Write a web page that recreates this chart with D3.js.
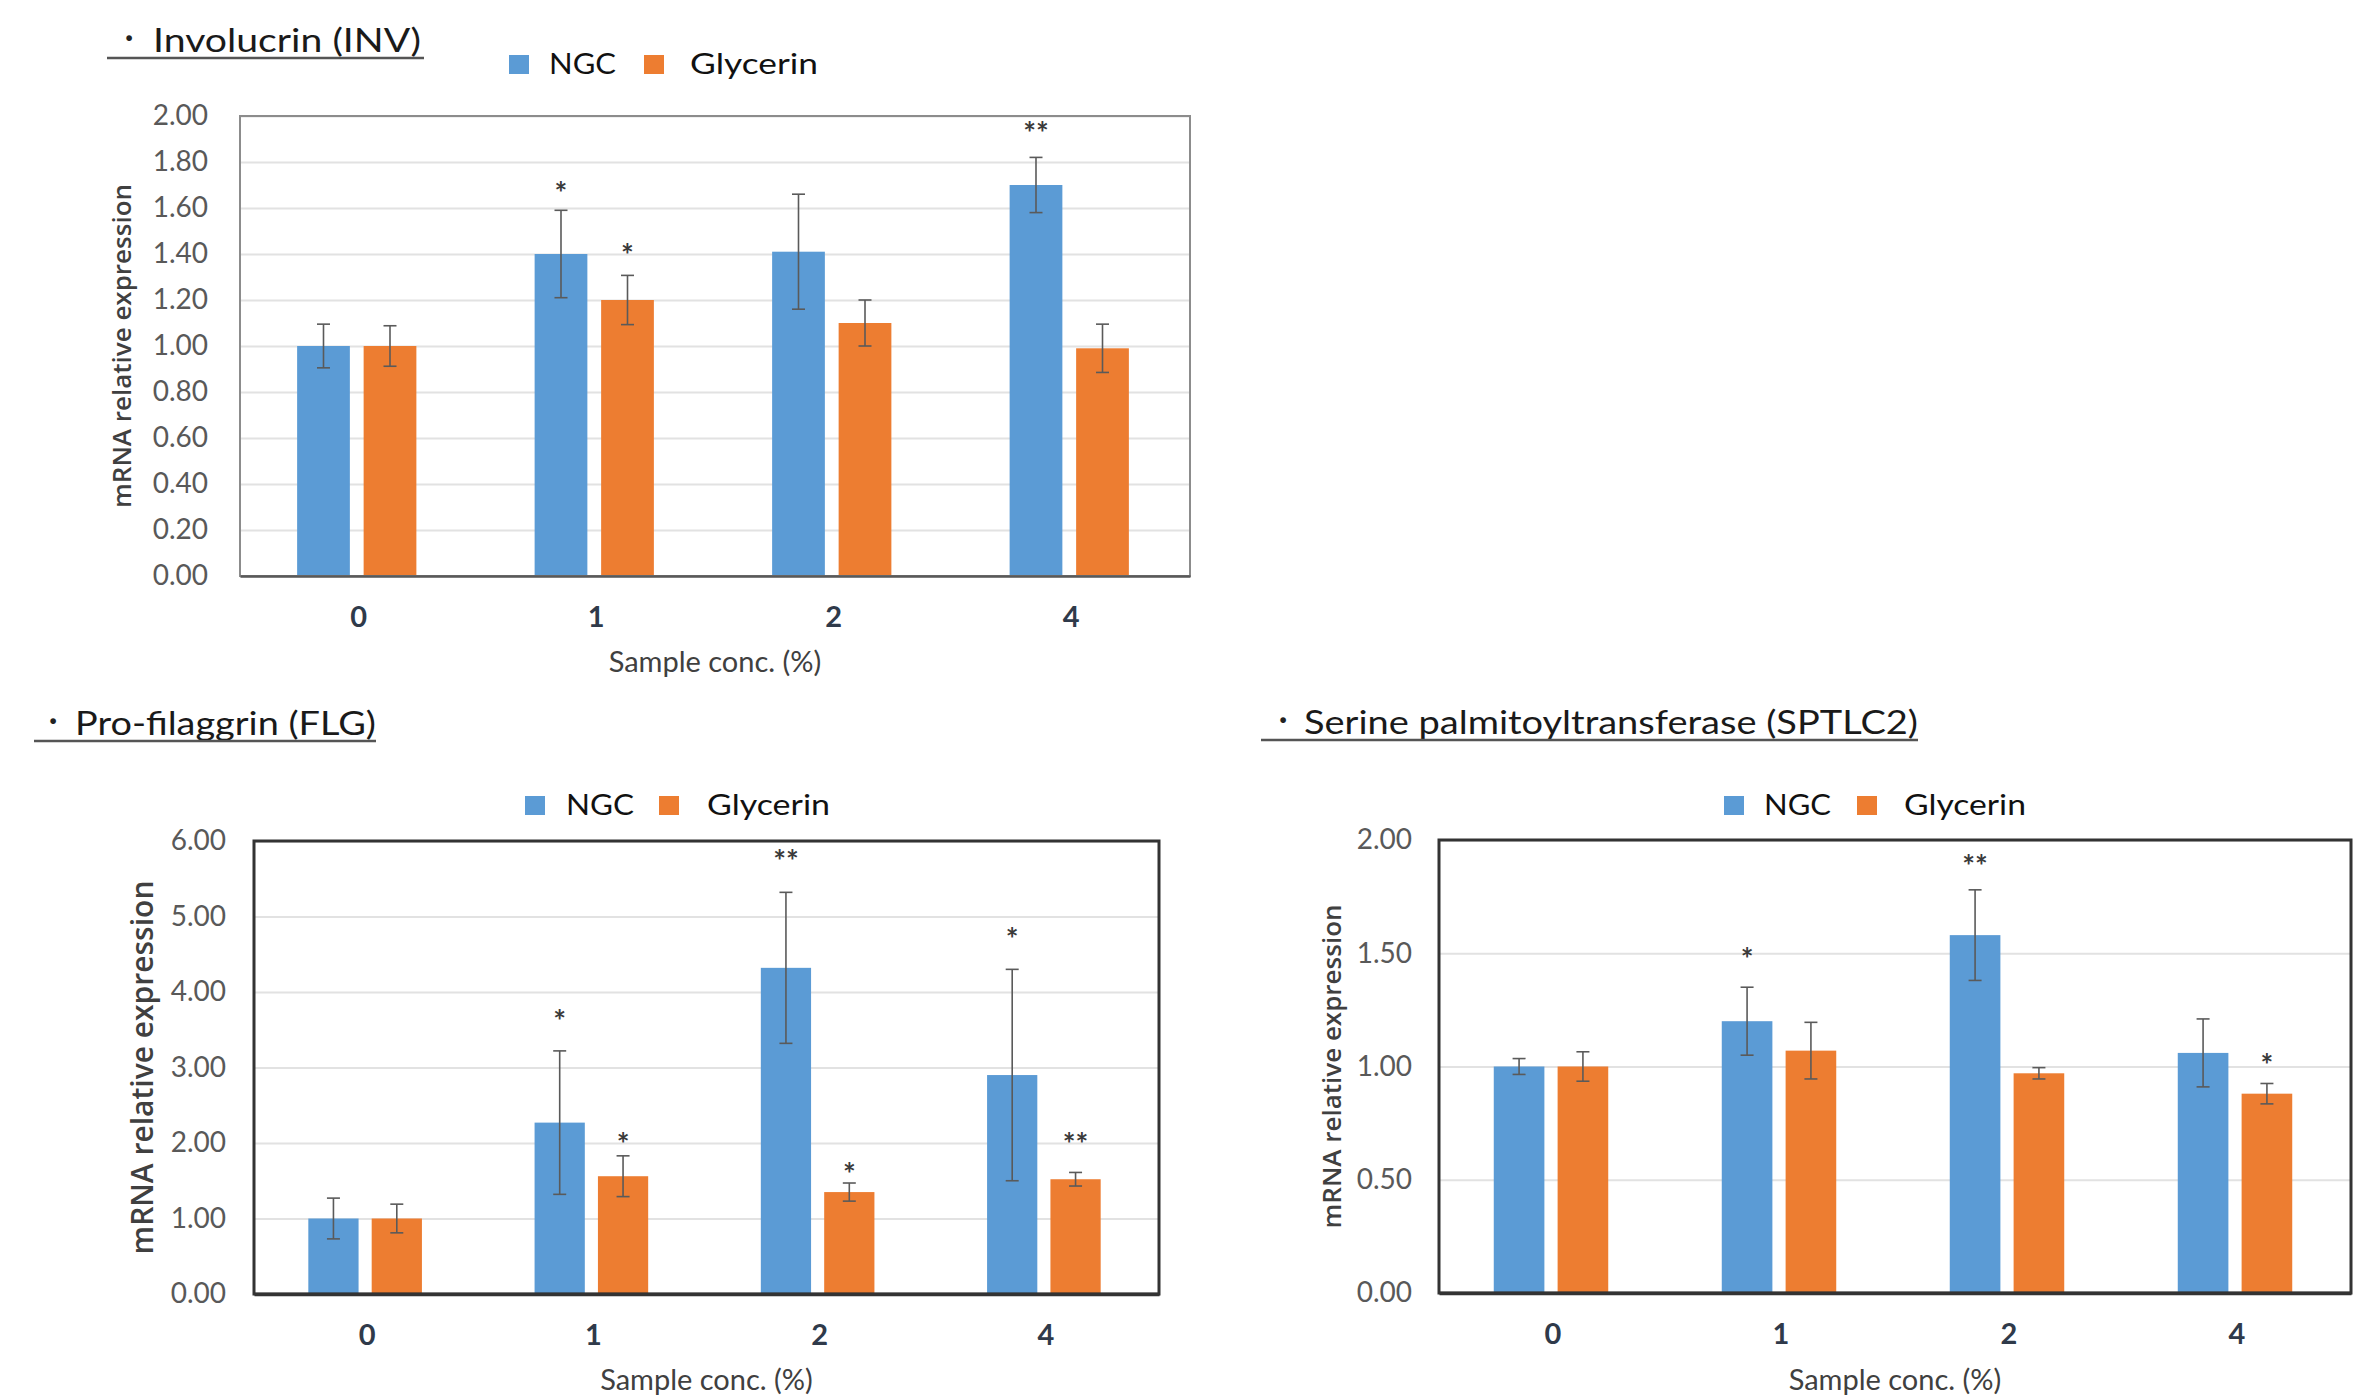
<!DOCTYPE html>
<html>
<head>
<meta charset="utf-8">
<script src="https://d3js.org/d3.v7.min.js"></script>
<style>
  body { margin: 0; background: #fff; }
  svg { display: block; }
</style>
</head>
<body>
<script>
// values (mRNA relative expression, mean and error bar half-length)
var categories = ["0", "1", "2", "4"];
var seriesNames = ["NGC", "Glycerin"];
var colors = ["#5B9BD5", "#ED7D31"];

var invTicks = [0, 0.2, 0.4, 0.6, 0.8, 1.0, 1.2, 1.4, 1.6, 1.8, 2.0];
var invNgc = [1.0, 1.4, 1.41, 1.7];
var invNgcErr = [0.095, 0.19, 0.25, 0.12];
var invGly = [1.0, 1.2, 1.1, 0.99];
var invGlyErr = [0.088, 0.107, 0.1, 0.105];
var invNgcStars = ["", "*", "", "**"];
var invNgcStarAt = [null, 1.68, null, 1.94];
var invGlyStars = ["", "*", "", ""];
var invGlyStarAt = [null, 1.41, null, null];

var flgTicks = [0, 1, 2, 3, 4, 5, 6];
var flgNgc = [1.0, 2.27, 4.32, 2.9];
var flgNgcErr = [0.27, 0.95, 1.0, 1.4];
var flgGly = [1.0, 1.56, 1.35, 1.52];
var flgGlyErr = [0.19, 0.27, 0.12, 0.09];
var flgNgcStars = ["", "*", "**", "*"];
var flgNgcStarAt = [null, 3.66, 5.78, 4.74];
var flgGlyStars = ["", "*", "*", "**"];
var flgGlyStarAt = [null, 2.02, 1.63, 2.02];

var sptTicks = [0, 0.5, 1.0, 1.5, 2.0];
var sptNgc = [1.0, 1.2, 1.58, 1.06];
var sptNgcErr = [0.035, 0.15, 0.2, 0.15];
var sptGly = [1.0, 1.07, 0.97, 0.88];
var sptGlyErr = [0.065, 0.125, 0.025, 0.045];
var sptNgcStars = ["", "*", "**", ""];
var sptNgcStarAt = [null, 1.49, 1.9, null];
var sptGlyStars = ["", "", "", "*"];
var sptGlyStarAt = [null, null, null, 1.02];

var W = 2362, H = 1398;
var labelFont = "Lato, 'Liberation Sans', sans-serif";

var svg = d3.select("body").append("svg")
  .attr("width", W)
  .attr("height", H);
svg.append("rect").attr("width", W).attr("height", H).attr("fill", "#fff");

function drawPanel(p) {
  var g = svg.append("g");

  // title with bullet and underline
  g.append("text")
    .attr("x", p.bulletX).attr("y", p.titleBase - 5)
    .attr("text-anchor", "middle")
    .attr("font-family", labelFont)
    .attr("font-size", 30)
    .attr("font-weight", "bold")
    .attr("fill", "#222")
    .text("·");
  g.append("text")
    .attr("x", p.titleX).attr("y", p.titleBase)
    .attr("font-family", labelFont)
    .attr("font-size", 32)
    .attr("fill", "#1a1a1a")
    .attr("textLength", p.titleLen)
    .attr("lengthAdjust", "spacingAndGlyphs")
    .text(p.title);
  g.append("line")
    .attr("x1", p.lineX0).attr("x2", p.lineX1)
    .attr("y1", p.titleBase + 6).attr("y2", p.titleBase + 6)
    .attr("stroke", "#555").attr("stroke-width", 2.5);

  // legend
  var leg = g.append("g");
  seriesNames.forEach(function (name, i) {
    leg.append("rect")
      .attr("x", p.legSq[i]).attr("y", p.legBase - 19)
      .attr("width", 20).attr("height", 19)
      .attr("fill", colors[i]);
    leg.append("text")
      .attr("x", p.legTx[i]).attr("y", p.legBase)
      .attr("font-family", labelFont)
      .attr("font-size", 28)
      .attr("fill", "#111")
      .attr("textLength", p.legLen[i])
      .attr("lengthAdjust", "spacingAndGlyphs")
      .text(name);
  });

  var x0 = d3.scaleBand().domain(categories).range([p.left, p.right]);
  var x1 = d3.scaleBand().domain(seriesNames)
    .range([0, x0.bandwidth()])
    .paddingInner(0.207).paddingOuter(0.889);
  var y = d3.scaleLinear().domain([0, p.ticks[p.ticks.length - 1]]).range([p.bottom, p.top]);

  // gridlines
  g.append("g")
    .attr("transform", "translate(" + p.left + ",0)")
    .call(d3.axisLeft(y).tickValues(p.ticks).tickSize(-(p.right - p.left)).tickFormat(""))
    .call(function (a) {
      a.select(".domain").remove();
      a.selectAll("line").attr("stroke", "#e2e2e2").attr("stroke-width", 2);
    });

  // y tick labels
  g.append("g")
    .attr("transform", "translate(" + p.left + ",0)")
    .call(d3.axisLeft(y).tickValues(p.ticks).tickSize(0).tickPadding(p.left - p.tickRight)
      .tickFormat(d3.format(".2f")))
    .call(function (a) {
      a.select(".domain").remove();
      a.selectAll("text")
        .attr("font-family", labelFont)
        .attr("font-size", 28)
        .attr("fill", "#595959");
    });

  // bars
  var series = [p.ngc, p.gly];
  var errs = [p.ngcErr, p.glyErr];
  series.forEach(function (vals, s) {
    g.append("g").selectAll("rect")
      .data(vals)
      .enter()
      .append("rect")
      .attr("x", function (d, i) { return x0(categories[i]) + x1(seriesNames[s]) - 2; })
      .attr("y", function (d) { return y(d); })
      .attr("width", x1.bandwidth())
      .attr("height", function (d) { return p.bottom - y(d); })
      .attr("fill", colors[s]);
  });

  // error bars
  series.forEach(function (vals, s) {
    var eg = g.append("g").attr("stroke", "#5a5a5a").attr("stroke-width", 1.6);
    vals.forEach(function (v, i) {
      var cx = x0(categories[i]) + x1(seriesNames[s]) - 2 + x1.bandwidth() / 2;
      var e = errs[s][i];
      eg.append("line").attr("x1", cx).attr("x2", cx).attr("y1", y(v + e)).attr("y2", y(v - e));
      eg.append("line").attr("x1", cx - 6.5).attr("x2", cx + 6.5).attr("y1", y(v + e)).attr("y2", y(v + e));
      eg.append("line").attr("x1", cx - 6.5).attr("x2", cx + 6.5).attr("y1", y(v - e)).attr("y2", y(v - e));
    });
  });

  // significance marks
  var stars = [p.ngcStars, p.glyStars];
  var starAt = [p.ngcStarAt, p.glyStarAt];
  stars.forEach(function (list, s) {
    list.forEach(function (t, i) {
      if (!t) return;
      var cx = x0(categories[i]) + x1(seriesNames[s]) - 2 + x1.bandwidth() / 2;
      g.append("text")
        .attr("x", cx).attr("y", y(starAt[s][i]) + 14)
        .attr("text-anchor", "middle")
        .attr("font-family", labelFont)
        .attr("font-size", 30)
        .attr("font-weight", "bold")
        .attr("fill", "#3a3a3a")
        .text(t);
    });
  });

  // frame
  g.append("rect")
    .attr("x", p.left).attr("y", p.top)
    .attr("width", p.right - p.left).attr("height", p.bottom - p.top)
    .attr("fill", "none")
    .attr("stroke", p.frameColor).attr("stroke-width", p.frameWidth);

  // x axis
  g.append("g")
    .attr("transform", "translate(0," + p.bottom + ")")
    .call(d3.axisBottom(x0).tickSize(0).tickPadding(p.xTickPad))
    .call(function (a) {
      a.select(".domain").attr("stroke", p.axisColor).attr("stroke-width", p.frameWidth + 0.5);
      a.selectAll("text")
        .attr("font-family", labelFont)
        .attr("font-size", 29)
        .attr("font-weight", "bold")
        .attr("fill", "#2f3a4a");
    });

  g.append("text")
    .attr("x", (p.left + p.right) / 2).attr("y", p.xTitleBase)
    .attr("text-anchor", "middle")
    .attr("font-family", labelFont)
    .attr("font-size", 29)
    .attr("fill", "#404040")
    .text("Sample conc. (%)");

  g.append("text")
    .attr("transform", "translate(" + p.yLabX + "," + (p.top + p.bottom) / 2 + ") rotate(-90)")
    .attr("text-anchor", "middle")
    .attr("font-family", "'Open Sans', sans-serif")
    .attr("font-size", p.yLabSize)
    .attr("font-weight", 600)
    .attr("fill", "#404040")
    .text("mRNA relative expression");
}

drawPanel({
  title: "Involucrin (INV)", bulletX: 129, titleX: 153, titleLen: 268, titleBase: 52,
  lineX0: 107, lineX1: 424,
  legSq: [509, 644], legTx: [549, 690], legLen: [67, 128], legBase: 74,
  left: 240, right: 1190, top: 116, bottom: 576,
  ticks: invTicks, tickRight: 208,
  ngc: invNgc, ngcErr: invNgcErr, gly: invGly, glyErr: invGlyErr,
  ngcStars: invNgcStars, ngcStarAt: invNgcStarAt, glyStars: invGlyStars, glyStarAt: invGlyStarAt,
  frameColor: "#8c8c8c", frameWidth: 2, axisColor: "#595959",
  xTickPad: 30, xTitleBase: 672, yLabX: 131, yLabSize: 26
});

drawPanel({
  title: "Pro-filaggrin (FLG)", bulletX: 53, titleX: 75, titleLen: 301, titleBase: 735,
  lineX0: 34, lineX1: 376,
  legSq: [525, 659], legTx: [566, 707], legLen: [68, 123], legBase: 815,
  left: 254, right: 1159, top: 841, bottom: 1294,
  ticks: flgTicks, tickRight: 226,
  ngc: flgNgc, ngcErr: flgNgcErr, gly: flgGly, glyErr: flgGlyErr,
  ngcStars: flgNgcStars, ngcStarAt: flgNgcStarAt, glyStars: flgGlyStars, glyStarAt: flgGlyStarAt,
  frameColor: "#333", frameWidth: 3, axisColor: "#333",
  xTickPad: 30, xTitleBase: 1390, yLabX: 153, yLabSize: 30
});

drawPanel({
  title: "Serine palmitoyltransferase (SPTLC2)", bulletX: 1283, titleX: 1304, titleLen: 614, titleBase: 734,
  lineX0: 1261, lineX1: 1918,
  legSq: [1724, 1857], legTx: [1764, 1904], legLen: [67, 122], legBase: 815,
  left: 1439, right: 2351, top: 840, bottom: 1293,
  ticks: sptTicks, tickRight: 1412,
  ngc: sptNgc, ngcErr: sptNgcErr, gly: sptGly, glyErr: sptGlyErr,
  ngcStars: sptNgcStars, ngcStarAt: sptNgcStarAt, glyStars: sptGlyStars, glyStarAt: sptGlyStarAt,
  frameColor: "#333", frameWidth: 3, axisColor: "#333",
  xTickPad: 30, xTitleBase: 1390, yLabX: 1341, yLabSize: 26
});
</script>
</body>
</html>
